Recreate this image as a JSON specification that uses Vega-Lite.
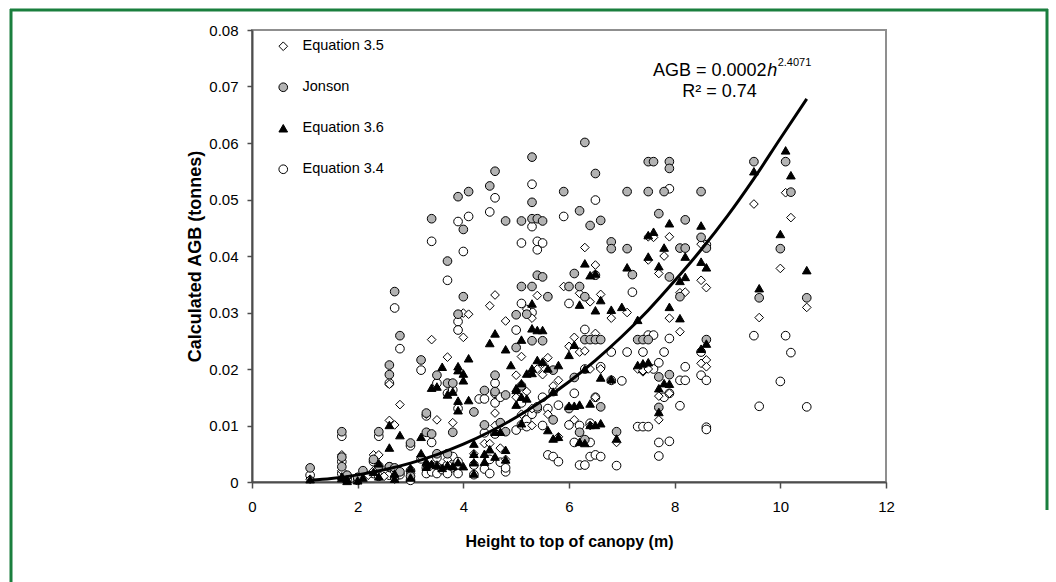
{
  "$schema": "https://vega.github.io/schema/vega-lite/v6.json",
  "width": 634,
  "height": 452,
  "autosize": {"type": "none"},
  "padding": {"left": 252, "top": 30, "right": 170, "bottom": 100},
  "background": "white",
  "config": {
    "font": "Liberation Sans",
    "view": {"stroke": "#8f8f8f", "strokeWidth": 2},
    "axis": {"grid": false, "labelFont": "Liberation Sans", "titleFont": "Liberation Sans", "labelColor": "black", "titleColor": "black", "domainColor": "#4d4d4d", "domainWidth": 2, "tickColor": "#4d4d4d", "tickWidth": 1.5},
    "legend": {"orient": "none", "legendX": 24, "legendY": 9, "rowPadding": 26, "labelFont": "Liberation Sans", "labelFontSize": 14.5, "labelColor": "black", "labelOffset": 12, "symbolSize": 75, "symbolStrokeColor": "black", "symbolStrokeWidth": 1, "symbolOpacity": 1}
  },
  "datasets": {
    "pts": [
      {"series":"Equation 3.4","h":1.1,"agb":0.0012},
      {"series":"Equation 3.4","h":1.7,"agb":0.0081},
      {"series":"Equation 3.4","h":1.7,"agb":0.0036},
      {"series":"Equation 3.4","h":1.7,"agb":0.0015},
      {"series":"Equation 3.4","h":1.8,"agb":0.0010},
      {"series":"Equation 3.4","h":1.8,"agb":0.0005},
      {"series":"Equation 3.4","h":2.0,"agb":0.0003},
      {"series":"Equation 3.4","h":2.0,"agb":0.0008},
      {"series":"Equation 3.4","h":2.1,"agb":0.0012},
      {"series":"Equation 3.4","h":2.3,"agb":0.0036},
      {"series":"Equation 3.4","h":2.3,"agb":0.0015},
      {"series":"Equation 3.4","h":2.4,"agb":0.0081},
      {"series":"Equation 3.4","h":2.4,"agb":0.0010},
      {"series":"Equation 3.4","h":2.6,"agb":0.0175},
      {"series":"Equation 3.4","h":2.6,"agb":0.0027},
      {"series":"Equation 3.4","h":2.6,"agb":0.0012},
      {"series":"Equation 3.4","h":2.7,"agb":0.0308},
      {"series":"Equation 3.4","h":2.7,"agb":0.0020},
      {"series":"Equation 3.4","h":2.7,"agb":0.0008},
      {"series":"Equation 3.4","h":2.8,"agb":0.0236},
      {"series":"Equation 3.4","h":2.8,"agb":0.0013},
      {"series":"Equation 3.4","h":3.0,"agb":0.0064},
      {"series":"Equation 3.4","h":3.0,"agb":0.0020},
      {"series":"Equation 3.4","h":3.0,"agb":0.0003},
      {"series":"Equation 3.4","h":3.2,"agb":0.0198},
      {"series":"Equation 3.4","h":3.2,"agb":0.0041},
      {"series":"Equation 3.4","h":3.3,"agb":0.0117},
      {"series":"Equation 3.4","h":3.3,"agb":0.0025},
      {"series":"Equation 3.4","h":3.3,"agb":0.0015},
      {"series":"Equation 3.4","h":3.4,"agb":0.0426},
      {"series":"Equation 3.4","h":3.4,"agb":0.0070},
      {"series":"Equation 3.4","h":3.4,"agb":0.0018},
      {"series":"Equation 3.4","h":3.5,"agb":0.0175},
      {"series":"Equation 3.4","h":3.5,"agb":0.0043},
      {"series":"Equation 3.4","h":3.5,"agb":0.0015},
      {"series":"Equation 3.4","h":3.6,"agb":0.0022},
      {"series":"Equation 3.4","h":3.7,"agb":0.0357},
      {"series":"Equation 3.4","h":3.7,"agb":0.0157},
      {"series":"Equation 3.4","h":3.7,"agb":0.0030},
      {"series":"Equation 3.4","h":3.7,"agb":0.0015},
      {"series":"Equation 3.4","h":3.8,"agb":0.0163},
      {"series":"Equation 3.4","h":3.8,"agb":0.0045},
      {"series":"Equation 3.4","h":3.9,"agb":0.0461},
      {"series":"Equation 3.4","h":3.9,"agb":0.0284},
      {"series":"Equation 3.4","h":3.9,"agb":0.0269},
      {"series":"Equation 3.4","h":3.9,"agb":0.0130},
      {"series":"Equation 3.4","h":3.9,"agb":0.0036},
      {"series":"Equation 3.4","h":3.9,"agb":0.0015},
      {"series":"Equation 3.4","h":4.0,"agb":0.0408},
      {"series":"Equation 3.4","h":4.1,"agb":0.0470},
      {"series":"Equation 3.4","h":4.2,"agb":0.0030},
      {"series":"Equation 3.4","h":4.2,"agb":0.0013},
      {"series":"Equation 3.4","h":4.3,"agb":0.0147},
      {"series":"Equation 3.4","h":4.4,"agb":0.0147},
      {"series":"Equation 3.4","h":4.4,"agb":0.0087},
      {"series":"Equation 3.4","h":4.4,"agb":0.0023},
      {"series":"Equation 3.4","h":4.5,"agb":0.0478},
      {"series":"Equation 3.4","h":4.5,"agb":0.0040},
      {"series":"Equation 3.4","h":4.5,"agb":0.0015},
      {"series":"Equation 3.4","h":4.6,"agb":0.0503},
      {"series":"Equation 3.4","h":4.6,"agb":0.0175},
      {"series":"Equation 3.4","h":4.6,"agb":0.0157},
      {"series":"Equation 3.4","h":4.6,"agb":0.0140},
      {"series":"Equation 3.4","h":4.6,"agb":0.0085},
      {"series":"Equation 3.4","h":4.7,"agb":0.0150},
      {"series":"Equation 3.4","h":4.7,"agb":0.0035},
      {"series":"Equation 3.4","h":4.8,"agb":0.0018},
      {"series":"Equation 3.4","h":4.8,"agb":0.0025},
      {"series":"Equation 3.4","h":5.0,"agb":0.0269},
      {"series":"Equation 3.4","h":5.0,"agb":0.0092},
      {"series":"Equation 3.4","h":5.1,"agb":0.0423},
      {"series":"Equation 3.4","h":5.1,"agb":0.0316},
      {"series":"Equation 3.4","h":5.1,"agb":0.0101},
      {"series":"Equation 3.4","h":5.1,"agb":0.0140},
      {"series":"Equation 3.4","h":5.2,"agb":0.0110},
      {"series":"Equation 3.4","h":5.2,"agb":0.0098},
      {"series":"Equation 3.4","h":5.3,"agb":0.0527},
      {"series":"Equation 3.4","h":5.3,"agb":0.0452},
      {"series":"Equation 3.4","h":5.3,"agb":0.0300},
      {"series":"Equation 3.4","h":5.3,"agb":0.0120},
      {"series":"Equation 3.4","h":5.4,"agb":0.0426},
      {"series":"Equation 3.4","h":5.4,"agb":0.0411},
      {"series":"Equation 3.4","h":5.4,"agb":0.0130},
      {"series":"Equation 3.4","h":5.5,"agb":0.0423},
      {"series":"Equation 3.4","h":5.5,"agb":0.0100},
      {"series":"Equation 3.4","h":5.5,"agb":0.0150},
      {"series":"Equation 3.4","h":5.6,"agb":0.0048},
      {"series":"Equation 3.4","h":5.6,"agb":0.0130},
      {"series":"Equation 3.4","h":5.7,"agb":0.0045},
      {"series":"Equation 3.4","h":5.7,"agb":0.0160},
      {"series":"Equation 3.4","h":5.8,"agb":0.0036},
      {"series":"Equation 3.4","h":5.8,"agb":0.0136},
      {"series":"Equation 3.4","h":5.9,"agb":0.0470},
      {"series":"Equation 3.4","h":6.0,"agb":0.0316},
      {"series":"Equation 3.4","h":6.0,"agb":0.0101},
      {"series":"Equation 3.4","h":6.1,"agb":0.0157},
      {"series":"Equation 3.4","h":6.1,"agb":0.0070},
      {"series":"Equation 3.4","h":6.2,"agb":0.0030},
      {"series":"Equation 3.4","h":6.2,"agb":0.0100},
      {"series":"Equation 3.4","h":6.3,"agb":0.0030},
      {"series":"Equation 3.4","h":6.3,"agb":0.0270},
      {"series":"Equation 3.4","h":6.3,"agb":0.0200},
      {"series":"Equation 3.4","h":6.4,"agb":0.0104},
      {"series":"Equation 3.4","h":6.4,"agb":0.0070},
      {"series":"Equation 3.4","h":6.4,"agb":0.0045},
      {"series":"Equation 3.4","h":6.5,"agb":0.0499},
      {"series":"Equation 3.4","h":6.5,"agb":0.0150},
      {"series":"Equation 3.4","h":6.5,"agb":0.0048},
      {"series":"Equation 3.4","h":6.6,"agb":0.0204},
      {"series":"Equation 3.4","h":6.6,"agb":0.0045},
      {"series":"Equation 3.4","h":6.8,"agb":0.0180},
      {"series":"Equation 3.4","h":6.8,"agb":0.0230},
      {"series":"Equation 3.4","h":6.9,"agb":0.0029},
      {"series":"Equation 3.4","h":7.0,"agb":0.0179},
      {"series":"Equation 3.4","h":7.1,"agb":0.0230},
      {"series":"Equation 3.4","h":7.2,"agb":0.0336},
      {"series":"Equation 3.4","h":7.3,"agb":0.0098},
      {"series":"Equation 3.4","h":7.4,"agb":0.0098},
      {"series":"Equation 3.4","h":7.4,"agb":0.0230},
      {"series":"Equation 3.4","h":7.5,"agb":0.0098},
      {"series":"Equation 3.4","h":7.5,"agb":0.0260},
      {"series":"Equation 3.4","h":7.6,"agb":0.0260},
      {"series":"Equation 3.4","h":7.6,"agb":0.0200},
      {"series":"Equation 3.4","h":7.7,"agb":0.0211},
      {"series":"Equation 3.4","h":7.7,"agb":0.0070},
      {"series":"Equation 3.4","h":7.7,"agb":0.0046},
      {"series":"Equation 3.4","h":7.8,"agb":0.0230},
      {"series":"Equation 3.4","h":7.8,"agb":0.0150},
      {"series":"Equation 3.4","h":7.9,"agb":0.0519},
      {"series":"Equation 3.4","h":7.9,"agb":0.0254},
      {"series":"Equation 3.4","h":7.9,"agb":0.0072},
      {"series":"Equation 3.4","h":7.9,"agb":0.0157},
      {"series":"Equation 3.4","h":8.1,"agb":0.0135},
      {"series":"Equation 3.4","h":8.1,"agb":0.0180},
      {"series":"Equation 3.4","h":8.2,"agb":0.0180},
      {"series":"Equation 3.4","h":8.2,"agb":0.0204},
      {"series":"Equation 3.4","h":8.5,"agb":0.0230},
      {"series":"Equation 3.4","h":8.5,"agb":0.0189},
      {"series":"Equation 3.4","h":8.6,"agb":0.0180},
      {"series":"Equation 3.4","h":8.6,"agb":0.0097},
      {"series":"Equation 3.4","h":8.6,"agb":0.0093},
      {"series":"Equation 3.4","h":8.6,"agb":0.0420},
      {"series":"Equation 3.4","h":9.5,"agb":0.0259},
      {"series":"Equation 3.4","h":9.6,"agb":0.0134},
      {"series":"Equation 3.4","h":10.0,"agb":0.0178},
      {"series":"Equation 3.4","h":10.1,"agb":0.0259},
      {"series":"Equation 3.4","h":10.2,"agb":0.0229},
      {"series":"Equation 3.4","h":10.5,"agb":0.0133},

      {"series":"Equation 3.5","h":1.1,"agb":0.0005},
      {"series":"Equation 3.5","h":1.7,"agb":0.0048},
      {"series":"Equation 3.5","h":1.7,"agb":0.0020},
      {"series":"Equation 3.5","h":1.8,"agb":0.0008},
      {"series":"Equation 3.5","h":2.0,"agb":0.0005},
      {"series":"Equation 3.5","h":2.2,"agb":0.0012},
      {"series":"Equation 3.5","h":2.3,"agb":0.0048},
      {"series":"Equation 3.5","h":2.3,"agb":0.0020},
      {"series":"Equation 3.5","h":2.4,"agb":0.0048},
      {"series":"Equation 3.5","h":2.5,"agb":0.0010},
      {"series":"Equation 3.5","h":2.6,"agb":0.0109},
      {"series":"Equation 3.5","h":2.6,"agb":0.0173},
      {"series":"Equation 3.5","h":2.6,"agb":0.0025},
      {"series":"Equation 3.5","h":2.7,"agb":0.0101},
      {"series":"Equation 3.5","h":2.7,"agb":0.0005},
      {"series":"Equation 3.5","h":2.8,"agb":0.0137},
      {"series":"Equation 3.5","h":3.0,"agb":0.0015},
      {"series":"Equation 3.5","h":3.2,"agb":0.0045},
      {"series":"Equation 3.5","h":3.3,"agb":0.0120},
      {"series":"Equation 3.5","h":3.3,"agb":0.0030},
      {"series":"Equation 3.5","h":3.4,"agb":0.0252},
      {"series":"Equation 3.5","h":3.4,"agb":0.0030},
      {"series":"Equation 3.5","h":3.5,"agb":0.0110},
      {"series":"Equation 3.5","h":3.5,"agb":0.0030},
      {"series":"Equation 3.5","h":3.7,"agb":0.0221},
      {"series":"Equation 3.5","h":3.7,"agb":0.0040},
      {"series":"Equation 3.5","h":3.8,"agb":0.0105},
      {"series":"Equation 3.5","h":3.8,"agb":0.0025},
      {"series":"Equation 3.5","h":3.9,"agb":0.0030},
      {"series":"Equation 3.5","h":4.0,"agb":0.0256},
      {"series":"Equation 3.5","h":4.0,"agb":0.0299},
      {"series":"Equation 3.5","h":4.1,"agb":0.0297},
      {"series":"Equation 3.5","h":4.2,"agb":0.0050},
      {"series":"Equation 3.5","h":4.4,"agb":0.0068},
      {"series":"Equation 3.5","h":4.4,"agb":0.0100},
      {"series":"Equation 3.5","h":4.5,"agb":0.0312},
      {"series":"Equation 3.5","h":4.5,"agb":0.0068},
      {"series":"Equation 3.5","h":4.6,"agb":0.0331},
      {"series":"Equation 3.5","h":4.6,"agb":0.0122},
      {"series":"Equation 3.5","h":4.6,"agb":0.0100},
      {"series":"Equation 3.5","h":4.7,"agb":0.0060},
      {"series":"Equation 3.5","h":4.8,"agb":0.0285},
      {"series":"Equation 3.5","h":4.8,"agb":0.0040},
      {"series":"Equation 3.5","h":5.0,"agb":0.0189},
      {"series":"Equation 3.5","h":5.0,"agb":0.0150},
      {"series":"Equation 3.5","h":5.1,"agb":0.0222},
      {"series":"Equation 3.5","h":5.1,"agb":0.0120},
      {"series":"Equation 3.5","h":5.2,"agb":0.0306},
      {"series":"Equation 3.5","h":5.2,"agb":0.0160},
      {"series":"Equation 3.5","h":5.3,"agb":0.0290},
      {"series":"Equation 3.5","h":5.3,"agb":0.0100},
      {"series":"Equation 3.5","h":5.3,"agb":0.0130},
      {"series":"Equation 3.5","h":5.4,"agb":0.0330},
      {"series":"Equation 3.5","h":5.4,"agb":0.0200},
      {"series":"Equation 3.5","h":5.5,"agb":0.0210},
      {"series":"Equation 3.5","h":5.5,"agb":0.0190},
      {"series":"Equation 3.5","h":5.6,"agb":0.0220},
      {"series":"Equation 3.5","h":5.6,"agb":0.0120},
      {"series":"Equation 3.5","h":5.7,"agb":0.0170},
      {"series":"Equation 3.5","h":5.8,"agb":0.0180},
      {"series":"Equation 3.5","h":5.8,"agb":0.0080},
      {"series":"Equation 3.5","h":5.9,"agb":0.0346},
      {"series":"Equation 3.5","h":6.0,"agb":0.0240},
      {"series":"Equation 3.5","h":6.1,"agb":0.0256},
      {"series":"Equation 3.5","h":6.1,"agb":0.0110},
      {"series":"Equation 3.5","h":6.2,"agb":0.0334},
      {"series":"Equation 3.5","h":6.2,"agb":0.0230},
      {"series":"Equation 3.5","h":6.3,"agb":0.0415},
      {"series":"Equation 3.5","h":6.3,"agb":0.0232},
      {"series":"Equation 3.5","h":6.4,"agb":0.0319},
      {"series":"Equation 3.5","h":6.4,"agb":0.0200},
      {"series":"Equation 3.5","h":6.4,"agb":0.0100},
      {"series":"Equation 3.5","h":6.5,"agb":0.0384},
      {"series":"Equation 3.5","h":6.5,"agb":0.0263},
      {"series":"Equation 3.5","h":6.5,"agb":0.0150},
      {"series":"Equation 3.5","h":6.6,"agb":0.0332},
      {"series":"Equation 3.5","h":6.6,"agb":0.0200},
      {"series":"Equation 3.5","h":6.8,"agb":0.0290},
      {"series":"Equation 3.5","h":6.8,"agb":0.0180},
      {"series":"Equation 3.5","h":6.9,"agb":0.0070},
      {"series":"Equation 3.5","h":7.1,"agb":0.0300},
      {"series":"Equation 3.5","h":7.3,"agb":0.0200},
      {"series":"Equation 3.5","h":7.4,"agb":0.0195},
      {"series":"Equation 3.5","h":7.4,"agb":0.0197},
      {"series":"Equation 3.5","h":7.5,"agb":0.0393},
      {"series":"Equation 3.5","h":7.5,"agb":0.0434},
      {"series":"Equation 3.5","h":7.5,"agb":0.0200},
      {"series":"Equation 3.5","h":7.6,"agb":0.0433},
      {"series":"Equation 3.5","h":7.7,"agb":0.0369},
      {"series":"Equation 3.5","h":7.7,"agb":0.0152},
      {"series":"Equation 3.5","h":7.7,"agb":0.0110},
      {"series":"Equation 3.5","h":7.8,"agb":0.0400},
      {"series":"Equation 3.5","h":7.9,"agb":0.0434},
      {"series":"Equation 3.5","h":7.9,"agb":0.0290},
      {"series":"Equation 3.5","h":7.9,"agb":0.0157},
      {"series":"Equation 3.5","h":8.1,"agb":0.0266},
      {"series":"Equation 3.5","h":8.1,"agb":0.0335},
      {"series":"Equation 3.5","h":8.2,"agb":0.0336},
      {"series":"Equation 3.5","h":8.5,"agb":0.0421},
      {"series":"Equation 3.5","h":8.5,"agb":0.0357},
      {"series":"Equation 3.5","h":8.5,"agb":0.0210},
      {"series":"Equation 3.5","h":8.6,"agb":0.0344},
      {"series":"Equation 3.5","h":8.6,"agb":0.0216},
      {"series":"Equation 3.5","h":8.6,"agb":0.0204},
      {"series":"Equation 3.5","h":9.5,"agb":0.0492},
      {"series":"Equation 3.5","h":9.6,"agb":0.0291},
      {"series":"Equation 3.5","h":10.0,"agb":0.0378},
      {"series":"Equation 3.5","h":10.1,"agb":0.0512},
      {"series":"Equation 3.5","h":10.2,"agb":0.0468},
      {"series":"Equation 3.5","h":10.5,"agb":0.0309},

      {"series":"Jonson","h":1.1,"agb":0.0025},
      {"series":"Jonson","h":1.7,"agb":0.0089},
      {"series":"Jonson","h":1.7,"agb":0.0044},
      {"series":"Jonson","h":1.7,"agb":0.0027},
      {"series":"Jonson","h":1.8,"agb":0.0012},
      {"series":"Jonson","h":2.0,"agb":0.0008},
      {"series":"Jonson","h":2.1,"agb":0.0020},
      {"series":"Jonson","h":2.3,"agb":0.0040},
      {"series":"Jonson","h":2.4,"agb":0.0089},
      {"series":"Jonson","h":2.4,"agb":0.0028},
      {"series":"Jonson","h":2.6,"agb":0.0207},
      {"series":"Jonson","h":2.6,"agb":0.0190},
      {"series":"Jonson","h":2.6,"agb":0.0027},
      {"series":"Jonson","h":2.7,"agb":0.0337},
      {"series":"Jonson","h":2.7,"agb":0.0025},
      {"series":"Jonson","h":2.8,"agb":0.0259},
      {"series":"Jonson","h":2.8,"agb":0.0018},
      {"series":"Jonson","h":3.0,"agb":0.0069},
      {"series":"Jonson","h":3.0,"agb":0.0010},
      {"series":"Jonson","h":3.2,"agb":0.0216},
      {"series":"Jonson","h":3.3,"agb":0.0122},
      {"series":"Jonson","h":3.3,"agb":0.0088},
      {"series":"Jonson","h":3.4,"agb":0.0466},
      {"series":"Jonson","h":3.4,"agb":0.0085},
      {"series":"Jonson","h":3.5,"agb":0.0189},
      {"series":"Jonson","h":3.5,"agb":0.0050},
      {"series":"Jonson","h":3.7,"agb":0.0391},
      {"series":"Jonson","h":3.7,"agb":0.0175},
      {"series":"Jonson","h":3.7,"agb":0.0050},
      {"series":"Jonson","h":3.8,"agb":0.0175},
      {"series":"Jonson","h":3.8,"agb":0.0088},
      {"series":"Jonson","h":3.9,"agb":0.0505},
      {"series":"Jonson","h":3.9,"agb":0.0297},
      {"series":"Jonson","h":4.0,"agb":0.0447},
      {"series":"Jonson","h":4.0,"agb":0.0328},
      {"series":"Jonson","h":4.1,"agb":0.0514},
      {"series":"Jonson","h":4.2,"agb":0.0124},
      {"series":"Jonson","h":4.4,"agb":0.0162},
      {"series":"Jonson","h":4.4,"agb":0.0101},
      {"series":"Jonson","h":4.5,"agb":0.0524},
      {"series":"Jonson","h":4.6,"agb":0.0550},
      {"series":"Jonson","h":4.6,"agb":0.0189},
      {"series":"Jonson","h":4.6,"agb":0.0160},
      {"series":"Jonson","h":4.7,"agb":0.0105},
      {"series":"Jonson","h":4.8,"agb":0.0462},
      {"series":"Jonson","h":4.8,"agb":0.0154},
      {"series":"Jonson","h":4.8,"agb":0.0089},
      {"series":"Jonson","h":5.0,"agb":0.0296},
      {"series":"Jonson","h":5.0,"agb":0.0238},
      {"series":"Jonson","h":5.1,"agb":0.0462},
      {"series":"Jonson","h":5.1,"agb":0.0346},
      {"series":"Jonson","h":5.1,"agb":0.0170},
      {"series":"Jonson","h":5.2,"agb":0.0297},
      {"series":"Jonson","h":5.3,"agb":0.0575},
      {"series":"Jonson","h":5.3,"agb":0.0495},
      {"series":"Jonson","h":5.3,"agb":0.0466},
      {"series":"Jonson","h":5.3,"agb":0.0346},
      {"series":"Jonson","h":5.3,"agb":0.0250},
      {"series":"Jonson","h":5.4,"agb":0.0466},
      {"series":"Jonson","h":5.4,"agb":0.0366},
      {"series":"Jonson","h":5.4,"agb":0.0133},
      {"series":"Jonson","h":5.5,"agb":0.0462},
      {"series":"Jonson","h":5.5,"agb":0.0363},
      {"series":"Jonson","h":5.5,"agb":0.0250},
      {"series":"Jonson","h":5.6,"agb":0.0328},
      {"series":"Jonson","h":5.7,"agb":0.0198},
      {"series":"Jonson","h":5.7,"agb":0.0110},
      {"series":"Jonson","h":5.9,"agb":0.0514},
      {"series":"Jonson","h":6.0,"agb":0.0346},
      {"series":"Jonson","h":6.0,"agb":0.0130},
      {"series":"Jonson","h":6.1,"agb":0.0369},
      {"series":"Jonson","h":6.1,"agb":0.0185},
      {"series":"Jonson","h":6.2,"agb":0.0480},
      {"series":"Jonson","h":6.2,"agb":0.0346},
      {"series":"Jonson","h":6.2,"agb":0.0088},
      {"series":"Jonson","h":6.3,"agb":0.0601},
      {"series":"Jonson","h":6.3,"agb":0.0328},
      {"series":"Jonson","h":6.3,"agb":0.0252},
      {"series":"Jonson","h":6.3,"agb":0.0075},
      {"series":"Jonson","h":6.4,"agb":0.0454},
      {"series":"Jonson","h":6.4,"agb":0.0252},
      {"series":"Jonson","h":6.5,"agb":0.0546},
      {"series":"Jonson","h":6.5,"agb":0.0366},
      {"series":"Jonson","h":6.5,"agb":0.0252},
      {"series":"Jonson","h":6.6,"agb":0.0463},
      {"series":"Jonson","h":6.6,"agb":0.0252},
      {"series":"Jonson","h":6.6,"agb":0.0133},
      {"series":"Jonson","h":6.8,"agb":0.0425},
      {"series":"Jonson","h":6.8,"agb":0.0413},
      {"series":"Jonson","h":6.9,"agb":0.0089},
      {"series":"Jonson","h":7.1,"agb":0.0514},
      {"series":"Jonson","h":7.1,"agb":0.0413},
      {"series":"Jonson","h":7.2,"agb":0.0367},
      {"series":"Jonson","h":7.3,"agb":0.0252},
      {"series":"Jonson","h":7.4,"agb":0.0252},
      {"series":"Jonson","h":7.5,"agb":0.0567},
      {"series":"Jonson","h":7.5,"agb":0.0514},
      {"series":"Jonson","h":7.5,"agb":0.0252},
      {"series":"Jonson","h":7.6,"agb":0.0567},
      {"series":"Jonson","h":7.7,"agb":0.0475},
      {"series":"Jonson","h":7.7,"agb":0.0186},
      {"series":"Jonson","h":7.7,"agb":0.0132},
      {"series":"Jonson","h":7.8,"agb":0.0514},
      {"series":"Jonson","h":7.9,"agb":0.0567},
      {"series":"Jonson","h":7.9,"agb":0.0555},
      {"series":"Jonson","h":7.9,"agb":0.0363},
      {"series":"Jonson","h":7.9,"agb":0.0190},
      {"series":"Jonson","h":8.1,"agb":0.0414},
      {"series":"Jonson","h":8.1,"agb":0.0328},
      {"series":"Jonson","h":8.2,"agb":0.0414},
      {"series":"Jonson","h":8.2,"agb":0.0464},
      {"series":"Jonson","h":8.5,"agb":0.0514},
      {"series":"Jonson","h":8.5,"agb":0.0433},
      {"series":"Jonson","h":8.6,"agb":0.0414},
      {"series":"Jonson","h":8.6,"agb":0.0252},
      {"series":"Jonson","h":9.5,"agb":0.0567},
      {"series":"Jonson","h":9.6,"agb":0.0326},
      {"series":"Jonson","h":10.0,"agb":0.0413},
      {"series":"Jonson","h":10.1,"agb":0.0567},
      {"series":"Jonson","h":10.2,"agb":0.0513},
      {"series":"Jonson","h":10.5,"agb":0.0326},

      {"series":"Equation 3.6","h":1.1,"agb":0.0005},
      {"series":"Equation 3.6","h":1.7,"agb":0.0010},
      {"series":"Equation 3.6","h":1.7,"agb":0.0007},
      {"series":"Equation 3.6","h":1.8,"agb":0.0005},
      {"series":"Equation 3.6","h":1.8,"agb":0.0002},
      {"series":"Equation 3.6","h":2.0,"agb":0.0003},
      {"series":"Equation 3.6","h":2.1,"agb":0.0008},
      {"series":"Equation 3.6","h":2.3,"agb":0.0018},
      {"series":"Equation 3.6","h":2.4,"agb":0.0033},
      {"series":"Equation 3.6","h":2.4,"agb":0.0010},
      {"series":"Equation 3.6","h":2.6,"agb":0.0061},
      {"series":"Equation 3.6","h":2.6,"agb":0.0101},
      {"series":"Equation 3.6","h":2.7,"agb":0.0015},
      {"series":"Equation 3.6","h":2.7,"agb":0.0006},
      {"series":"Equation 3.6","h":2.8,"agb":0.0083},
      {"series":"Equation 3.6","h":3.0,"agb":0.0025},
      {"series":"Equation 3.6","h":3.0,"agb":0.0008},
      {"series":"Equation 3.6","h":3.2,"agb":0.0080},
      {"series":"Equation 3.6","h":3.2,"agb":0.0051},
      {"series":"Equation 3.6","h":3.3,"agb":0.0036},
      {"series":"Equation 3.6","h":3.3,"agb":0.0027},
      {"series":"Equation 3.6","h":3.4,"agb":0.0167},
      {"series":"Equation 3.6","h":3.4,"agb":0.0032},
      {"series":"Equation 3.6","h":3.5,"agb":0.0169},
      {"series":"Equation 3.6","h":3.5,"agb":0.0030},
      {"series":"Equation 3.6","h":3.6,"agb":0.0204},
      {"series":"Equation 3.6","h":3.6,"agb":0.0025},
      {"series":"Equation 3.6","h":3.7,"agb":0.0155},
      {"series":"Equation 3.6","h":3.7,"agb":0.0030},
      {"series":"Equation 3.6","h":3.8,"agb":0.0160},
      {"series":"Equation 3.6","h":3.8,"agb":0.0028},
      {"series":"Equation 3.6","h":3.9,"agb":0.0205},
      {"series":"Equation 3.6","h":3.9,"agb":0.0198},
      {"series":"Equation 3.6","h":3.9,"agb":0.0144},
      {"series":"Equation 3.6","h":3.9,"agb":0.0127},
      {"series":"Equation 3.6","h":3.9,"agb":0.0035},
      {"series":"Equation 3.6","h":4.0,"agb":0.0192},
      {"series":"Equation 3.6","h":4.0,"agb":0.0180},
      {"series":"Equation 3.6","h":4.0,"agb":0.0028},
      {"series":"Equation 3.6","h":4.1,"agb":0.0219},
      {"series":"Equation 3.6","h":4.1,"agb":0.0145},
      {"series":"Equation 3.6","h":4.2,"agb":0.0068},
      {"series":"Equation 3.6","h":4.2,"agb":0.0050},
      {"series":"Equation 3.6","h":4.2,"agb":0.0035},
      {"series":"Equation 3.6","h":4.2,"agb":0.0015},
      {"series":"Equation 3.6","h":4.4,"agb":0.0050},
      {"series":"Equation 3.6","h":4.4,"agb":0.0036},
      {"series":"Equation 3.6","h":4.5,"agb":0.0246},
      {"series":"Equation 3.6","h":4.5,"agb":0.0058},
      {"series":"Equation 3.6","h":4.6,"agb":0.0263},
      {"series":"Equation 3.6","h":4.6,"agb":0.0089},
      {"series":"Equation 3.6","h":4.6,"agb":0.0045},
      {"series":"Equation 3.6","h":4.7,"agb":0.0089},
      {"series":"Equation 3.6","h":4.8,"agb":0.0235},
      {"series":"Equation 3.6","h":4.8,"agb":0.0057},
      {"series":"Equation 3.6","h":4.8,"agb":0.0040},
      {"series":"Equation 3.6","h":4.9,"agb":0.0207},
      {"series":"Equation 3.6","h":5.0,"agb":0.0166},
      {"series":"Equation 3.6","h":5.0,"agb":0.0137},
      {"series":"Equation 3.6","h":5.0,"agb":0.0163},
      {"series":"Equation 3.6","h":5.1,"agb":0.0252},
      {"series":"Equation 3.6","h":5.1,"agb":0.0151},
      {"series":"Equation 3.6","h":5.1,"agb":0.0104},
      {"series":"Equation 3.6","h":5.1,"agb":0.0175},
      {"series":"Equation 3.6","h":5.2,"agb":0.0192},
      {"series":"Equation 3.6","h":5.2,"agb":0.0148},
      {"series":"Equation 3.6","h":5.3,"agb":0.0316},
      {"series":"Equation 3.6","h":5.3,"agb":0.0272},
      {"series":"Equation 3.6","h":5.3,"agb":0.0201},
      {"series":"Equation 3.6","h":5.3,"agb":0.0193},
      {"series":"Equation 3.6","h":5.4,"agb":0.0269},
      {"series":"Equation 3.6","h":5.4,"agb":0.0216},
      {"series":"Equation 3.6","h":5.5,"agb":0.0269},
      {"series":"Equation 3.6","h":5.5,"agb":0.0213},
      {"series":"Equation 3.6","h":5.6,"agb":0.0201},
      {"series":"Equation 3.6","h":5.6,"agb":0.0092},
      {"series":"Equation 3.6","h":5.7,"agb":0.0160},
      {"series":"Equation 3.6","h":5.7,"agb":0.0077},
      {"series":"Equation 3.6","h":5.8,"agb":0.0207},
      {"series":"Equation 3.6","h":5.8,"agb":0.0080},
      {"series":"Equation 3.6","h":6.0,"agb":0.0225},
      {"series":"Equation 3.6","h":6.0,"agb":0.0135},
      {"series":"Equation 3.6","h":6.1,"agb":0.0243},
      {"series":"Equation 3.6","h":6.1,"agb":0.0135},
      {"series":"Equation 3.6","h":6.2,"agb":0.0314},
      {"series":"Equation 3.6","h":6.2,"agb":0.0137},
      {"series":"Equation 3.6","h":6.2,"agb":0.0071},
      {"series":"Equation 3.6","h":6.3,"agb":0.0387},
      {"series":"Equation 3.6","h":6.3,"agb":0.0200},
      {"series":"Equation 3.6","h":6.3,"agb":0.0069},
      {"series":"Equation 3.6","h":6.4,"agb":0.0366},
      {"series":"Equation 3.6","h":6.4,"agb":0.0139},
      {"series":"Equation 3.6","h":6.4,"agb":0.0101},
      {"series":"Equation 3.6","h":6.5,"agb":0.0369},
      {"series":"Equation 3.6","h":6.5,"agb":0.0304},
      {"series":"Equation 3.6","h":6.5,"agb":0.0101},
      {"series":"Equation 3.6","h":6.6,"agb":0.0322},
      {"series":"Equation 3.6","h":6.6,"agb":0.0185},
      {"series":"Equation 3.6","h":6.6,"agb":0.0104},
      {"series":"Equation 3.6","h":6.8,"agb":0.0305},
      {"series":"Equation 3.6","h":6.8,"agb":0.0182},
      {"series":"Equation 3.6","h":6.9,"agb":0.0077},
      {"series":"Equation 3.6","h":7.0,"agb":0.0310},
      {"series":"Equation 3.6","h":7.1,"agb":0.0380},
      {"series":"Equation 3.6","h":7.3,"agb":0.0287},
      {"series":"Equation 3.6","h":7.3,"agb":0.0207},
      {"series":"Equation 3.6","h":7.4,"agb":0.0210},
      {"series":"Equation 3.6","h":7.5,"agb":0.0437},
      {"series":"Equation 3.6","h":7.5,"agb":0.0399},
      {"series":"Equation 3.6","h":7.5,"agb":0.0212},
      {"series":"Equation 3.6","h":7.6,"agb":0.0443},
      {"series":"Equation 3.6","h":7.7,"agb":0.0382},
      {"series":"Equation 3.6","h":7.7,"agb":0.0166},
      {"series":"Equation 3.6","h":7.7,"agb":0.0124},
      {"series":"Equation 3.6","h":7.8,"agb":0.0415},
      {"series":"Equation 3.6","h":7.8,"agb":0.0175},
      {"series":"Equation 3.6","h":7.9,"agb":0.0458},
      {"series":"Equation 3.6","h":7.9,"agb":0.0310},
      {"series":"Equation 3.6","h":7.9,"agb":0.0174},
      {"series":"Equation 3.6","h":8.1,"agb":0.0290},
      {"series":"Equation 3.6","h":8.1,"agb":0.0356},
      {"series":"Equation 3.6","h":8.2,"agb":0.0399},
      {"series":"Equation 3.6","h":8.2,"agb":0.0363},
      {"series":"Equation 3.6","h":8.5,"agb":0.0454},
      {"series":"Equation 3.6","h":8.5,"agb":0.0390},
      {"series":"Equation 3.6","h":8.5,"agb":0.0236},
      {"series":"Equation 3.6","h":8.6,"agb":0.0380},
      {"series":"Equation 3.6","h":8.6,"agb":0.0245},
      {"series":"Equation 3.6","h":9.5,"agb":0.0550},
      {"series":"Equation 3.6","h":9.6,"agb":0.0343},
      {"series":"Equation 3.6","h":10.0,"agb":0.0439},
      {"series":"Equation 3.6","h":10.1,"agb":0.0587},
      {"series":"Equation 3.6","h":10.2,"agb":0.0543},
      {"series":"Equation 3.6","h":10.5,"agb":0.0375}
    ],
    "curve": [
      {"h":1.1,"agb":0.0003},
      {"h":1.5,"agb":0.00063},
      {"h":2.0,"agb":0.00126},
      {"h":2.5,"agb":0.00216},
      {"h":3.0,"agb":0.00335},
      {"h":3.5,"agb":0.00486},
      {"h":4.0,"agb":0.00669},
      {"h":4.5,"agb":0.00889},
      {"h":5.0,"agb":0.01145},
      {"h":5.5,"agb":0.01441},
      {"h":6.0,"agb":0.01775},
      {"h":6.5,"agb":0.02154},
      {"h":7.0,"agb":0.02575},
      {"h":7.5,"agb":0.0304},
      {"h":8.0,"agb":0.0356},
      {"h":8.5,"agb":0.0411},
      {"h":9.0,"agb":0.0471},
      {"h":9.5,"agb":0.0537},
      {"h":10.0,"agb":0.0608},
      {"h":10.5,"agb":0.0678}
    ],
    "one": [{}]
  },
  "layer": [
    {
      "data": {"name": "pts"},
      "mark": {"type": "point", "filled": true, "opacity": 1, "stroke": "black", "strokeWidth": 1, "size": 75},
      "encoding": {
        "x": {"field": "h", "type": "quantitative",
          "scale": {"domain": [0, 12], "nice": false, "zero": false},
          "axis": {"values": [0, 2, 4, 6, 8, 10, 12], "title": "Height to top of canopy (m)", "titleFontSize": 16, "titleFontWeight": "bold", "titlePadding": 19, "labelFontSize": 15, "tickSize": 6, "labelPadding": 11, "labelFlush": false}},
        "y": {"field": "agb", "type": "quantitative",
          "scale": {"domain": [0, 0.08], "nice": false},
          "axis": {"values": [0, 0.01, 0.02, 0.03, 0.04, 0.05, 0.06, 0.07, 0.08], "labelExpr": "datum.value == 0 ? '0' : format(datum.value, '.2f')", "title": "Calculated AGB (tonnes)", "titleFontSize": 18, "titleFontWeight": "bold", "titlePadding": 4, "labelFontSize": 15, "tickSize": 5, "labelPadding": 9, "labelFlush": false}},
        "shape": {"field": "series", "type": "nominal", "title": null,
          "scale": {"domain": ["Equation 3.5", "Jonson", "Equation 3.6", "Equation 3.4"], "range": ["diamond", "circle", "triangle-up", "circle"]},
          "legend": {"symbolStrokeColor": "black", "symbolStrokeWidth": 1, "encode": {"symbols": {"update": {"stroke": {"value": "black"}, "strokeWidth": {"value": 1}, "opacity": {"value": 1}}}}}},
        "fill": {"field": "series", "type": "nominal", "title": null,
          "scale": {"domain": ["Equation 3.5", "Jonson", "Equation 3.6", "Equation 3.4"], "range": ["white", "#b3b3b3", "black", "white"]},
          "legend": {"symbolStrokeColor": "black", "symbolStrokeWidth": 1, "encode": {"symbols": {"update": {"stroke": {"value": "black"}, "strokeWidth": {"value": 1}, "opacity": {"value": 1}}}}}}
      }
    },
    {
      "data": {"name": "curve"},
      "mark": {"type": "line", "color": "black", "strokeWidth": 3, "interpolate": "monotone"},
      "encoding": {
        "x": {"field": "h", "type": "quantitative"},
        "y": {"field": "agb", "type": "quantitative"}
      }
    },
    {
      "data": {"name": "one"},
      "mark": {"type": "text", "text": "AGB = 0.0002", "fontSize": 18, "align": "right", "baseline": "alphabetic", "color": "black"},
      "encoding": {"x": {"datum": 9.74, "type": "quantitative"}, "y": {"datum": 0.0718, "type": "quantitative"}}
    },
    {
      "data": {"name": "one"},
      "mark": {"type": "text", "text": "h", "fontSize": 18, "fontStyle": "italic", "align": "left", "baseline": "alphabetic", "color": "black"},
      "encoding": {"x": {"datum": 9.75, "type": "quantitative"}, "y": {"datum": 0.0718, "type": "quantitative"}}
    },
    {
      "data": {"name": "one"},
      "mark": {"type": "text", "text": "2.4071", "fontSize": 11, "align": "left", "baseline": "alphabetic", "color": "black"},
      "encoding": {"x": {"datum": 9.95, "type": "quantitative"}, "y": {"datum": 0.0736, "type": "quantitative"}}
    },
    {
      "data": {"name": "one"},
      "mark": {"type": "text", "text": "R² = 0.74", "fontSize": 18, "align": "center", "baseline": "alphabetic", "color": "black"},
      "encoding": {"x": {"datum": 8.85, "type": "quantitative"}, "y": {"datum": 0.0681, "type": "quantitative"}}
    },
    {
      "data": {"name": "one"},
      "mark": {"type": "rule", "color": "#1a7f3e", "strokeWidth": 3, "clip": false},
      "encoding": {"x": {"value": -241}, "y": {"value": -21}, "y2": {"value": 560}}
    },
    {
      "data": {"name": "one"},
      "mark": {"type": "rule", "color": "#1a7f3e", "strokeWidth": 3, "clip": false},
      "encoding": {"x": {"value": -242}, "x2": {"value": 796}, "y": {"value": -20}}
    },
    {
      "data": {"name": "one"},
      "mark": {"type": "rule", "color": "#1a7f3e", "strokeWidth": 3, "clip": false},
      "encoding": {"x": {"value": 795}, "y": {"value": -21}, "y2": {"value": 480}}
    }
  ]
}
